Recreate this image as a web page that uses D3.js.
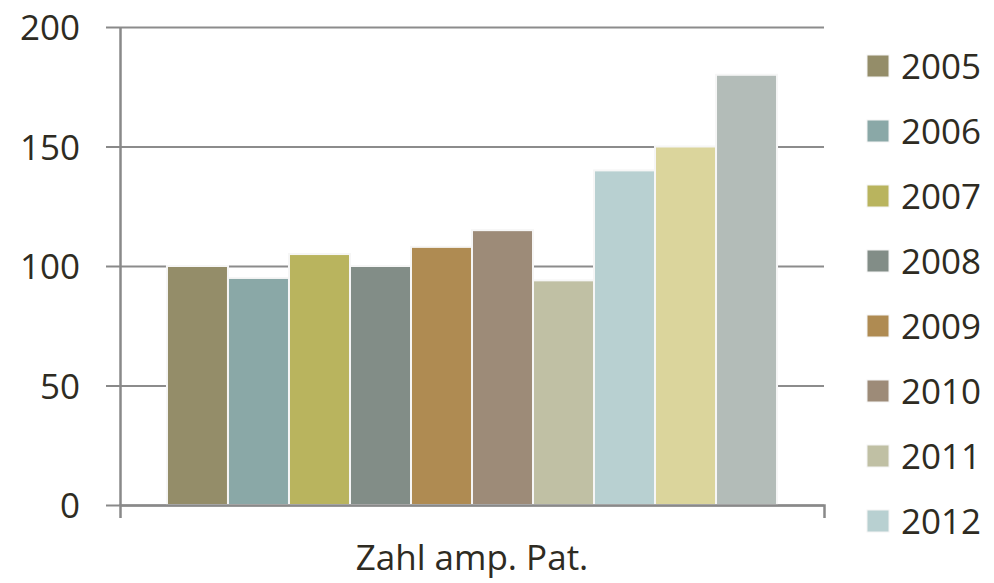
<!DOCTYPE html>
<html>
<head>
<meta charset="utf-8">
<script src="https://cdn.jsdelivr.net/npm/d3@7"></script>
<style>
  body { margin: 0; background: #fff; }
  text { font-family: "Open Sans", sans-serif; fill: #2e2b22; }
</style>
</head>
<body>
<div id="chart"></div>
<script>
// values per year, single category
var years = ["2005", "2006", "2007", "2008", "2009", "2010", "2011", "2012", "2013", "2014"];
var values = [100, 95, 105, 100, 108, 115, 94, 140, 150, 180];
var colors = ["#948d69", "#8aa8a7", "#b9b45e", "#828d87", "#af8b52",
              "#9d8b78", "#c0c0a4", "#b8d0d1", "#dbd59c", "#b3bcb8"];
var category = ["Zahl amp. Pat."];
var yTicks = [0, 50, 100, 150, 200];
var legendYears = years.slice(0, 8); // legend is cut off after 2012

var margin = { top: 27, right: 170, bottom: 78, left: 120 },
    width = 994 - margin.left - margin.right,
    height = 583 - margin.top - margin.bottom;

var svg = d3.select("#chart").append("svg")
    .attr("width", 994)
    .attr("height", 583)
    .append("g")
    .attr("transform", "translate(" + margin.left + "," + margin.top + ")");

var y = d3.scaleLinear().domain([0, 200]).range([height, 0]);

var xCat = d3.scaleBand().domain(category).range([0, width]);

var x = d3.scaleBand()
    .domain(years)
    .range([0, width])
    .paddingInner(0)
    .paddingOuter(0.77);

// gridlines
svg.append("g")
    .call(d3.axisLeft(y).tickValues(yTicks).tickSize(-width).tickFormat(""))
    .call(function (g) { g.select(".domain").remove(); })
    .selectAll("line")
    .attr("stroke", "#8c8c8c")
    .attr("stroke-width", 2);

// bars
svg.selectAll("rect.bar")
    .data(values)
    .enter()
    .append("rect")
    .attr("class", "bar")
    .attr("x", function (d, i) { return x(years[i]); })
    .attr("y", function (d) { return y(d); })
    .attr("width", x.bandwidth())
    .attr("height", function (d) { return height - y(d); })
    .attr("fill", function (d, i) { return colors[i]; })
    .attr("stroke", "#f6f6f6")
    .attr("stroke-width", 2);

// y axis
var yAxis = svg.append("g")
    .call(d3.axisLeft(y).tickValues(yTicks).tickSizeInner(14).tickSizeOuter(0).tickPadding(26));
yAxis.select(".domain").attr("stroke", "#898989").attr("stroke-width", 2.5);
yAxis.selectAll("line").attr("stroke", "#898989").attr("stroke-width", 2);
yAxis.selectAll("text")
    .style("font-size", "35px")
    .attr("dy", "0.36em");

// x axis
var xAxis = svg.append("g")
    .attr("transform", "translate(0," + height + ")")
    .call(d3.axisBottom(xCat).tickSizeInner(0).tickSizeOuter(13).tickPadding(40));
xAxis.select(".domain").attr("stroke", "#898989").attr("stroke-width", 2.5);
xAxis.selectAll("text")
    .style("font-size", "35px")
    .attr("dy", "0.71em");

// legend
var legend = d3.select("svg").append("g")
    .attr("transform", "translate(867,55)");

var items = legend.selectAll("g")
    .data(legendYears)
    .enter()
    .append("g")
    .attr("transform", function (d, i) { return "translate(0," + (i * 65) + ")"; });

items.append("rect")
    .attr("width", 22)
    .attr("height", 22)
    .attr("fill", function (d, i) { return colors[i]; })
    .attr("stroke", "#f4f4f4")
    .attr("stroke-width", 1);

items.append("text")
    .attr("x", 34)
    .attr("y", 11)
    .attr("dy", "0.36em")
    .style("font-size", "35px")
    .text(function (d) { return d; });
</script>
</body>
</html>
